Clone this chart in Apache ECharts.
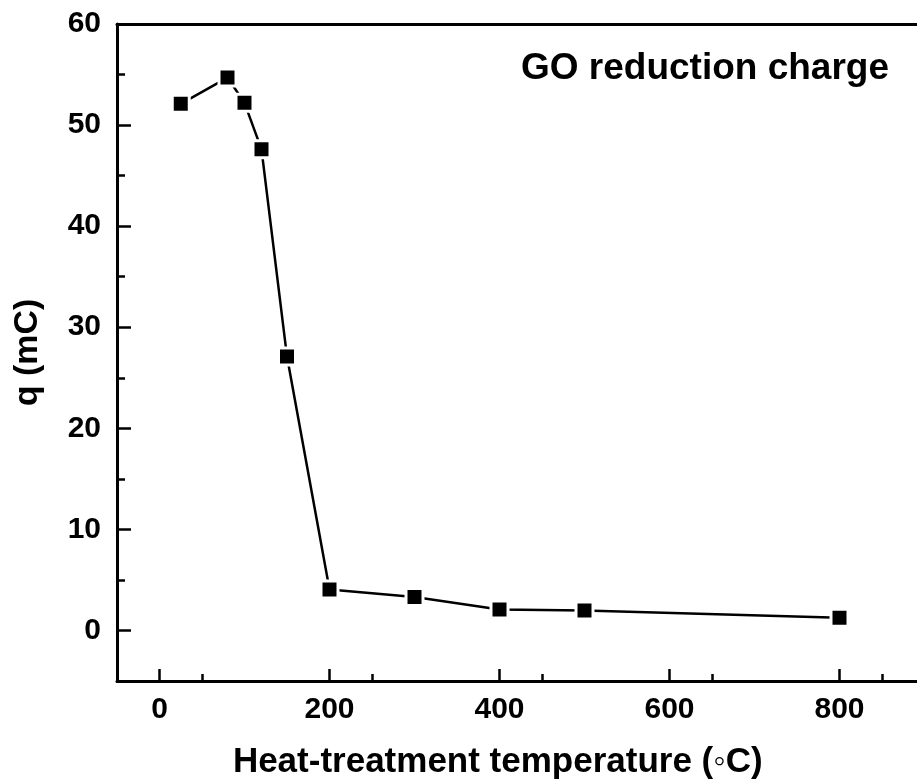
<!DOCTYPE html>
<html>
<head>
<meta charset="utf-8">
<script src="https://cdn.jsdelivr.net/npm/echarts@6/dist/echarts.min.js"></script>
<style>
  html, body { margin: 0; padding: 0; background: #fff; }
  #chart { width: 917px; height: 783px; }
</style>
</head>
<body>
<div id="chart"></div>
<script>
// Heat-treatment temperature (°C) and measured GO reduction charge (mC)
var temperatures = [25, 80, 100, 120, 150, 200, 300, 400, 500, 800];
var chargeValues = [52.1, 54.7, 52.2, 47.6, 27.1, 4.06, 3.3, 2.08, 1.98, 1.26];
var xTicks = [0, 200, 400, 600, 800];
var yTicks = [0, 10, 20, 30, 40, 50, 60];

var points = temperatures.map(function (t, i) { return [t, chargeValues[i]]; });
var fontFamily = '"Liberation Sans", Arial, sans-serif';

var chart = echarts.init(document.getElementById('chart'), null, { renderer: 'canvas' });
chart.setOption({
  backgroundColor: '#ffffff',
  animation: false,
  grid: { left: 117, top: 24, width: 807.5, height: 657, outerBoundsMode: 'none', containLabel: false },
  title: {
    text: 'GO reduction charge',
    right: 23,
    top: 45,
    textStyle: { fontFamily: fontFamily, fontWeight: 'bold', fontSize: 37, color: '#000' }
  },
  xAxis: [{
    type: 'value',
    min: -50,
    max: 900,
    interval: 200,
    name: 'Heat-treatment temperature (\u25E6C)',
    nameLocation: 'middle',
    nameGap: 64,
    nameTextStyle: {
      fontFamily: fontFamily, fontWeight: 'bold', fontSize: 35, color: '#000',
      padding: [0, 46, 0, 0]
    },
    axisLine: { show: true, onZero: false, lineStyle: { color: '#000', width: 3 } },
    axisTick: {
      show: true, inside: true, length: 12,
      lineStyle: { color: '#000', width: 2.5 },
      customValues: xTicks
    },
    minorTick: { show: true, splitNumber: 2, length: 7, lineStyle: { color: '#000', width: 2.5 } },
    axisLabel: {
      fontFamily: fontFamily, fontWeight: 'bold', fontSize: 30, color: '#000', margin: 14,
      customValues: xTicks
    },
    splitLine: { show: false }
  }, {
    type: 'value',
    position: 'top',
    min: -50,
    max: 900,
    axisLine: { show: true, onZero: false, lineStyle: { color: '#000', width: 3 } },
    axisTick: { show: false },
    axisLabel: { show: false },
    splitLine: { show: false }
  }],
  yAxis: {
    type: 'value',
    min: -5,
    max: 60,
    name: 'q (mC)',
    nameLocation: 'middle',
    nameGap: 72,
    nameTextStyle: { fontFamily: fontFamily, fontWeight: 'bold', fontSize: 34, color: '#000' },
    axisLine: { show: true, onZero: false, lineStyle: { color: '#000', width: 3 } },
    axisTick: {
      show: true, inside: true, length: 14,
      lineStyle: { color: '#000', width: 2.5 },
      customValues: yTicks
    },
    minorTick: { show: true, splitNumber: 2, length: 8, lineStyle: { color: '#000', width: 2.5 } },
    axisLabel: {
      fontFamily: fontFamily, fontWeight: 'bold', fontSize: 30, color: '#000', margin: 16,
      customValues: yTicks
    },
    splitLine: { show: false }
  },
  series: [{
    type: 'line',
    data: points,
    symbol: 'rect',
    symbolSize: 17,
    lineStyle: { color: '#000', width: 2.5 },
    itemStyle: { color: '#000', borderColor: '#fff', borderWidth: 3 },
    z: 3
  }]
});
</script>
</body>
</html>
